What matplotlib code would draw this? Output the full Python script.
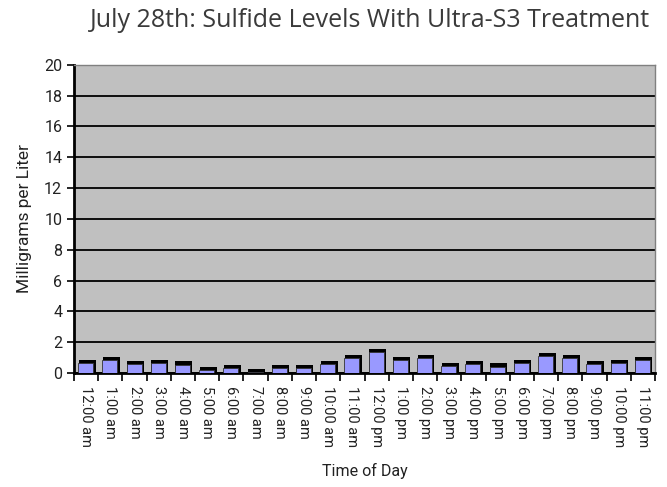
import numpy as np
import matplotlib.pyplot as plt

hours = ['12:00 am', '1:00 am', '2:00 am', '3:00 am', '4:00 am', '5:00 am',
         '6:00 am', '7:00 am', '8:00 am', '9:00 am', '10:00 am', '11:00 am',
         '12:00 pm', '1:00 pm', '2:00 pm', '3:00 pm', '4:00 pm', '5:00 pm',
         '6:00 pm', '7:00 pm', '8:00 pm', '9:00 pm', '10:00 pm', '11:00 pm']
sulfide = [0.87, 1.04, 0.8, 0.87, 0.76, 0.41, 0.54, 0.26, 0.54, 0.54, 0.78, 1.19,
           1.56, 1.04, 1.19, 0.65, 0.78, 0.63, 0.87, 1.3, 1.19, 0.78, 0.87, 1.04]

narrow = ['Roboto', 'DejaVu Sans']

fig = plt.figure(figsize=(6.67, 4.87), dpi=100)
ax = fig.add_axes([0.111, 0.234, 0.871, 0.633])
ax.set_facecolor('#c0c0c0')

x = np.arange(len(hours))
vals = np.array(sulfide)
# "3d" look: dark block behind, blue face in front
ax.bar(x + 0.04, vals, width=0.7, color='black', zorder=3)
ax.bar(x - 0.02, vals - 0.22, width=0.62, color='#9999ff', edgecolor='#333333',
       linewidth=0.6, zorder=4)

ax.set_ylim(0, 20)
ax.set_xlim(-0.5, len(hours) - 0.5)
ax.set_yticks(range(0, 21, 2))
ax.yaxis.grid(True, color='black', linewidth=1.3, zorder=1)
ax.set_axisbelow(True)

ax.set_xticks(x)
ax.set_xticklabels(hours, rotation=270, family=narrow, fontsize=10.5,
                   color='#222222')
ax.set_xticks(np.arange(-0.5, len(hours), 1), minor=True)
ax.tick_params(axis='x', which='major', length=0, pad=9)
ax.tick_params(axis='x', which='minor', length=6, width=1.2, color='black')
ax.tick_params(axis='y', length=5, width=1.2, labelsize=11.5, labelcolor='#222222')
for lab in ax.get_yticklabels():
    lab.set_family(narrow)

for s in ['top', 'right']:
    ax.spines[s].set_color('#808080')
    ax.spines[s].set_linewidth(1)
ax.spines['left'].set_linewidth(2)
ax.spines['bottom'].set_linewidth(2)

ax.set_xlabel('Time of Day', family=narrow, fontsize=11.5, color='#222222',
              labelpad=12)
ax.set_ylabel('Milligrams per Liter', family=narrow, fontsize=12.5,
              color='#222222', labelpad=9)
fig.text(0.554, 0.958, 'July 28th: Sulfide Levels With Ultra-S3 Treatment',
         ha='center', va='center', fontsize=18, family='Open Sans',
         color='#3a3a3a')

plt.savefig('out.png')
